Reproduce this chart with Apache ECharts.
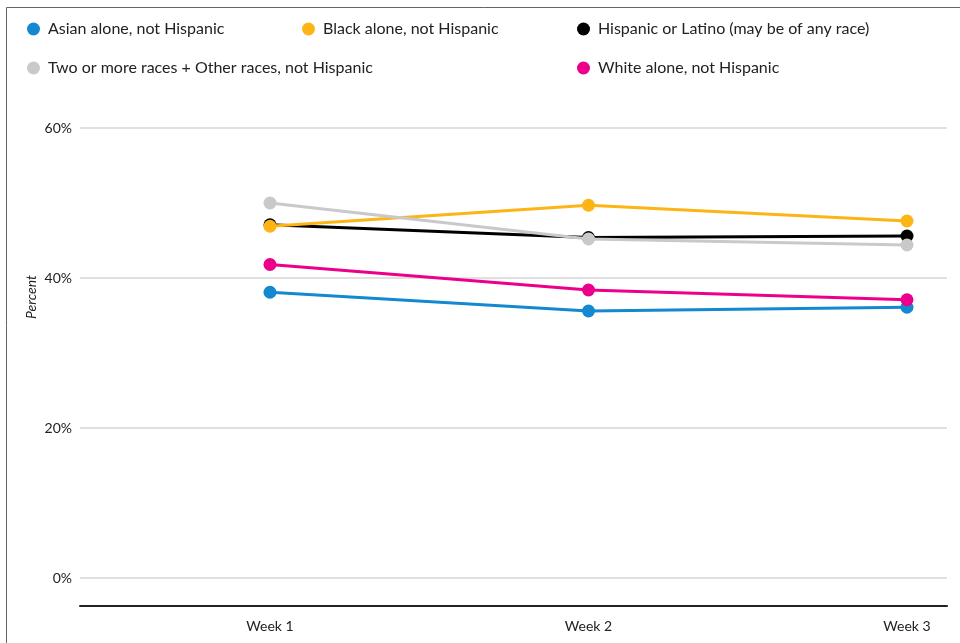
<!DOCTYPE html>
<html>
<head>
<meta charset="utf-8">
<script src="https://cdn.jsdelivr.net/npm/echarts@6/dist/echarts.min.js"></script>
<style>
html,body{margin:0;padding:0;background:#fff;}
#chart{width:960px;height:643px;}
</style>
</head>
<body>
<div id="chart"></div>
<script>
const weeks = [1, 2, 3];
const weekLabels = ['Week 1', 'Week 2', 'Week 3'];
const yTicks = [0, 20, 40, 60];

const asian = [38.1, 35.6, 36.1];
const black = [46.9, 49.7, 47.6];
const hispanic = [47.1, 45.4, 45.6];
const twoOrMore = [50.0, 45.2, 44.4];
const white = [41.8, 38.4, 37.1];

const seriesNames = [
  'Asian alone, not Hispanic',
  'Black alone, not Hispanic',
  'Hispanic or Latino (may be of any race)',
  'Two or more races + Other races, not Hispanic',
  'White alone, not Hispanic'
];
const seriesData = [asian, black, hispanic, twoOrMore, white];
const colors = ['#1488d0', '#fdb515', '#000000', '#c9c9c9', '#ec008b'];
const zOrder = [2, 4, 3, 5, 2];

const FONT = 'Lato, "Noto Sans", sans-serif';

const chart = echarts.init(document.getElementById('chart'), null, {renderer: 'canvas'});

function mkLegend(name, left, top) {
  return {
    data: [name],
    left: left,
    top: top,
    icon: 'circle',
    itemWidth: 13,
    itemHeight: 13,
    itemGap: 0,
    padding: 0,
    selectedMode: false,
    textStyle: {fontFamily: FONT, fontSize: 16, color: '#222', padding: [0, 0, 0, 3]}
  };
}

const option = {
  animation: false,
  backgroundColor: '#fff',
  color: colors,
  legend: [
    mkLegend(seriesNames[0], 27, 21),
    mkLegend(seriesNames[1], 302, 21),
    mkLegend(seriesNames[2], 577, 21),
    mkLegend(seriesNames[3], 27, 60),
    mkLegend(seriesNames[4], 577, 60)
  ],
  graphic: [{
    type: 'polyline',
    shape: {points: [[6.5, 643], [6.5, 7.5], [960, 7.5]]},
    style: {stroke: '#666', lineWidth: 1, fill: null},
    silent: true
  }, {
    type: 'text',
    x: 31,
    y: 297,
    rotation: Math.PI / 2,
    style: {
      text: 'Percent',
      font: 'italic 14px Lato, "Noto Sans", sans-serif',
      fill: '#222',
      align: 'center',
      verticalAlign: 'middle'
    },
    silent: true
  }],
  grid: {left: 80, right: 13, top: 128, bottom: 65, outerBoundsMode: 'none', containLabel: false},
  xAxis: {
    type: 'value',
    min: 0.4035,
    max: 3.1256,
    offset: 28,
    axisLine: {show: true, onZero: false, lineStyle: {color: '#222', width: 2}},
    axisTick: {show: false},
    splitLine: {show: false},
    axisLabel: {
      customValues: weeks,
      formatter: v => weekLabels[weeks.indexOf(Math.round(v))] || '',
      margin: 13,
      fontFamily: FONT, fontSize: 14, color: '#222'
    }
  },
  yAxis: {
    type: 'value',
    min: yTicks[0],
    max: yTicks[yTicks.length - 1],
    interval: 20,
    axisLine: {show: false},
    axisTick: {show: false},
    splitLine: {lineStyle: {color: '#e0e0e0', width: 2}},
    axisLabel: {formatter: '{value}%', margin: 8, fontFamily: FONT, fontSize: 14, color: '#222'}
  },
  series: seriesNames.map((n, i) => ({
    name: n,
    type: 'line',
    z: zOrder[i],
    data: weeks.map((w, j) => [w, seriesData[i][j]]),
    symbol: 'circle',
    symbolSize: 13,
    lineStyle: {width: 3, color: colors[i]},
    itemStyle: {color: colors[i]},
    emphasis: {disabled: true}
  }))
};
chart.setOption(option);
</script>
</body>
</html>
